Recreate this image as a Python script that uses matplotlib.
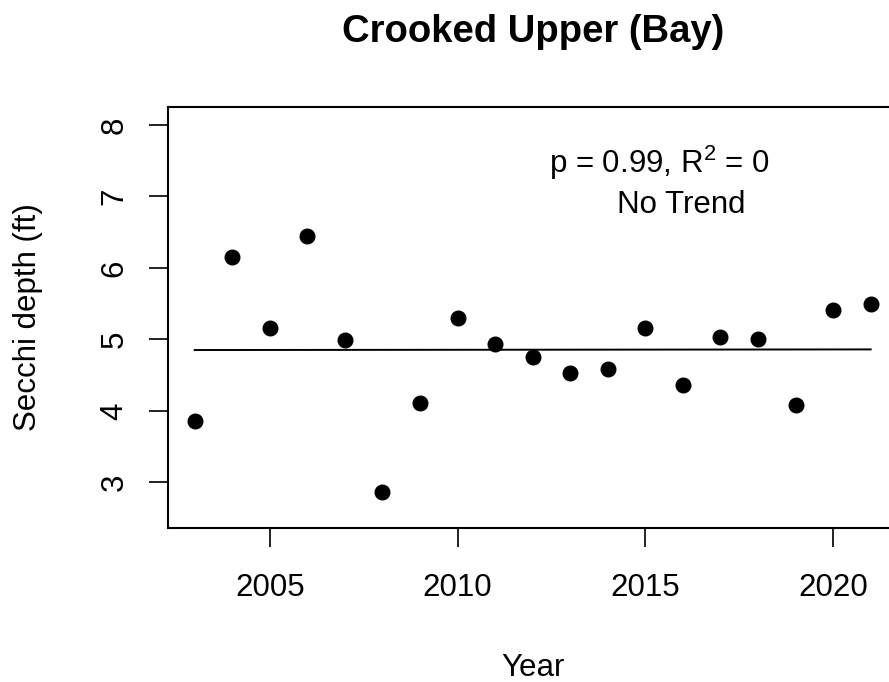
import numpy as np
import matplotlib
matplotlib.use("Agg")
import matplotlib.pyplot as plt

plt.rcParams['font.family'] = ['Liberation Sans', 'DejaVu Sans']
plt.rcParams['mathtext.fontset'] = 'custom'
plt.rcParams['mathtext.rm'] = 'Liberation Sans'
plt.rcParams['mathtext.it'] = 'Liberation Sans:italic'

# data
years = [2003, 2004, 2005, 2006, 2007, 2008, 2009, 2010, 2011, 2012,
         2013, 2014, 2015, 2016, 2017, 2018, 2019, 2020, 2021]
secchi = [3.86, 6.15, 5.16, 6.44, 4.99, 2.86, 4.11, 5.30, 4.94, 4.76,
          4.53, 4.59, 5.16, 4.36, 5.04, 5.01, 4.08, 5.41, 5.50]
x_ticks = [2005, 2010, 2015, 2020]
y_ticks = [3, 4, 5, 6, 7, 8]

W, H = 889, 682
FS = 22.5
fig = plt.figure(figsize=(W / 100, H / 100), dpi=100)
# plot box runs off the right edge of the picture, as in the reference
ax = fig.add_axes([167.7 / W, 1 - 528.3 / H, 730 / W, 421 / H])

ax.plot(years, secchi, 'o', color='black', markersize=10.5)

# least squares trend line
slope, icpt = np.polyfit(years, secchi, 1)
yr = np.array([years[0], years[-1]])
ax.plot(yr, slope * yr + icpt, color='black', linewidth=1.4)

ax.set_xlim(2002.28, 2021.72)
ax.set_ylim(2.356, 8.248)
ax.set_xticks(x_ticks)
ax.set_yticks(y_ticks)
for s in ax.spines.values():
    s.set_linewidth(1.5)
ax.tick_params(length=13.5, width=1.4, labelsize=FS, color='#222222')
ax.tick_params(axis='x', pad=18.5)
ax.tick_params(axis='y', pad=14)
for lab in ax.get_yticklabels():
    lab.set_rotation(90)
    lab.set_va('center')

ax.text(0.673, 0.844, 'p = 0.99, $\\mathrm{R}^2$ = 0', transform=ax.transAxes,
        ha='center', va='baseline', fontsize=FS)
ax.text(0.703, 0.749, 'No Trend', transform=ax.transAxes,
        ha='center', va='baseline', fontsize=FS)

fig.text(532.7 / W, 1 - 42.5 / H, 'Crooked Upper (Bay)', ha='center',
         va='baseline', fontsize=27.5, fontweight='bold')
fig.text(532.7 / W, 1 - 676 / H, 'Year', ha='center', va='baseline',
         fontsize=FS)
fig.text(28 / W, 1 - 317 / H, 'Secchi depth (ft)', ha='center', va='center',
         rotation=90, fontsize=FS)

fig.savefig('out.png', dpi=100)
